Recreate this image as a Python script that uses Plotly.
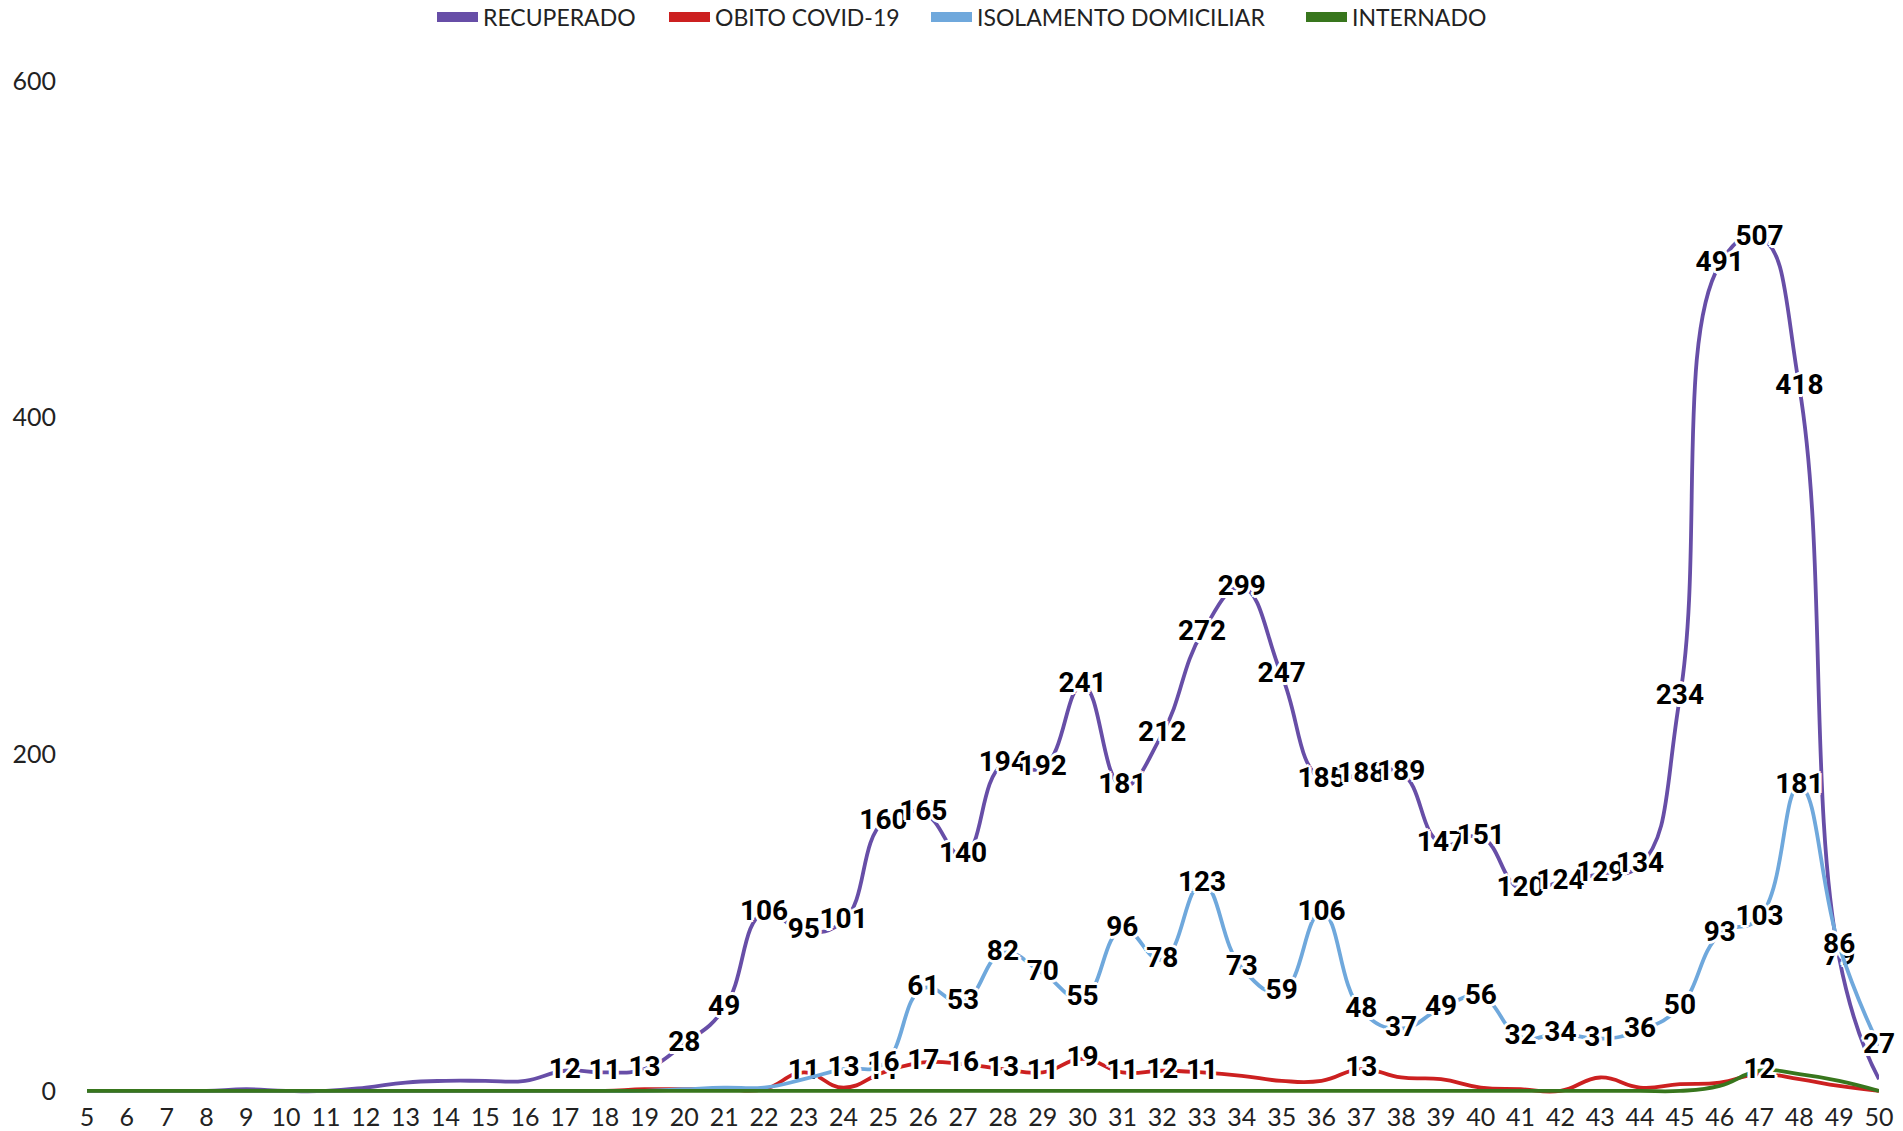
import plotly.graph_objects as go

weeks = list(range(5, 51))

recuperado = [0, 0, 0, 0, 1, 0, 0, 2, 5, 6, 6, 6, 12, 11, 13, 28, 49, 106, 95, 101,
              160, 165, 140, 194, 192, 241, 181, 212, 272, 299, 247, 185, 188, 189, 147, 151,
              120, 124, 129, 134, 234, 491, 507, 418, 79, 7]
obito = [0, 0, 0, 0, 0, 0, 0, 0, 0, 0, 0, 0, 0, 0, 1, 1, 1, 1, 11, 2,
         11, 17, 16, 13, 11, 19, 11, 12, 11, 9, 6, 6, 13, 8, 7, 2,
         1, 0, 8, 2, 4, 5, 10, 7, 3, 0]
isolamento = [0, 0, 0, 0, 0, 0, 0, 0, 0, 0, 0, 0, 0, 0, 0, 1, 2, 2, 7, 13,
              16, 61, 53, 82, 70, 55, 96, 78, 123, 73, 59, 106, 48, 37, 49, 56,
              32, 34, 31, 36, 50, 93, 103, 181, 86, 27]
internado = [0, 0, 0, 0, 0, 0, 0, 0, 0, 0, 0, 0, 0, 0, 0, 0, 0, 0, 0, 0,
             0, 0, 0, 0, 0, 0, 0, 0, 0, 0, 0, 0, 0, 0, 0, 0,
             0, 0, 0, 0, 0, 3, 12, 10, 6, 0]

series = [
    ("RECUPERADO", recuperado, "#674ea7"),
    ("OBITO COVID-19", obito, "#cc2020"),
    ("ISOLAMENTO DOMICILIAR", isolamento, "#6fa8dc"),
    ("INTERNADO", internado, "#38761d"),
]
# left edge (px) of each legend swatch in the reference
legend_x = [437, 669, 931, 1306]

AXIS_FONT = "Lato"
halo = ", ".join(f"{dx}px {dy}px 0px #ffffff" for dx, dy in
                 [(-2, -2), (2, -2), (-2, 2), (2, 2), (0, 3), (0, -3), (3, 0), (-3, 0)])

fig = go.Figure()
for name, vals, color in series:
    fig.add_trace(go.Scatter(
        x=weeks, y=vals, name=name, mode="lines+text", showlegend=False,
        line=dict(color=color, width=3.8, shape="spline", smoothing=1.3),
        text=[str(v) if v >= 11 else "" for v in vals],
        textposition="middle center",
        textfont=dict(family="Roboto", size=28, color="#000000", weight="bold", shadow=halo),
        cliponaxis=False,
    ))

legend_layouts = {}
for i, ((name, vals, color), lx) in enumerate(zip(series, legend_x)):
    key = "legend" if i == 0 else f"legend{i + 1}"
    fig.add_trace(go.Scatter(
        x=[None], y=[None], name=name, mode="lines",
        line=dict(color=color, width=10), showlegend=True, legend=key,
    ))
    legend_layouts[key] = dict(
        orientation="h", x=(lx - 5) / 1903, xref="container", xanchor="left",
        y=1 - 17 / 1131, yref="container", yanchor="middle",
        font=dict(family=AXIS_FONT, size=23, color="#222222"),
        itemwidth=41, bgcolor="rgba(0,0,0,0)",
    )

fig.update_layout(
    width=1903, height=1131,
    paper_bgcolor="white", plot_bgcolor="white",
    margin=dict(l=87, r=24, t=81, b=35, autoexpand=False),
    showlegend=True,
    font=dict(family=AXIS_FONT, size=25, color="#222222"),
    **legend_layouts,
)
fig.update_xaxes(range=[5, 50], tickmode="array", tickvals=weeks, ticktext=[str(w) for w in weeks],
                 showgrid=False, zeroline=False, showline=False, ticks="", ticklabelstandoff=4,
                 automargin=False,
                 tickfont=dict(family=AXIS_FONT, size=25, color="#222222"))
fig.update_yaxes(range=[-3, 600], tickmode="array", tickvals=[0, 200, 400, 600],
                 showgrid=False, zeroline=False, showline=False, ticks="", ticklabelstandoff=30,
                 automargin=False,
                 tickfont=dict(family=AXIS_FONT, size=25, color="#222222"))

fig.write_html("out.html", config={"displayModeBar": False},
               post_script="document.body.style.margin='0';document.body.style.overflow='hidden';")
